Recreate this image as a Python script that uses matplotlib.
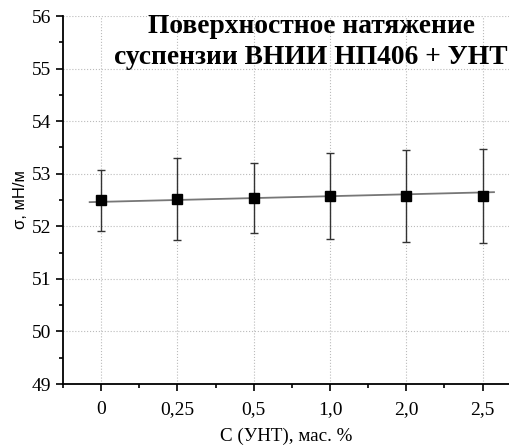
import matplotlib.pyplot as plt
import numpy as np
from matplotlib.ticker import MultipleLocator

# data
conc_labels = ['0', '0,25', '0,5', '1,0', '2,0', '2,5']
sigma = [52.50, 52.52, 52.54, 52.57, 52.58, 52.58]
sigma_err = [0.58, 0.78, 0.67, 0.82, 0.87, 0.90]
fit_x = [-0.15, 5.15]
fit_y = [52.46, 52.65]

plt.rcParams['font.family'] = ['Liberation Serif', 'DejaVu Serif']

fig = plt.figure(figsize=(5.1, 4.46), dpi=100)
ax = fig.add_axes([0.1235, 0.139, 0.8765, 0.825])

x = np.arange(len(conc_labels))
ax.plot(fit_x, fit_y, color='#777777', lw=1.3, zorder=2)
ax.errorbar(x, sigma, yerr=sigma_err, fmt='s', color='black', ms=6.5,
            ecolor='#333333', elinewidth=1, capsize=2.8, capthick=1, zorder=3)

ax.set_xlim(-0.5, 5.36)
ax.set_ylim(49, 56)
ax.set_xticks(x)
ax.set_xticklabels(conc_labels)
ax.xaxis.set_minor_locator(MultipleLocator(1, offset=0.5))
ax.yaxis.set_major_locator(MultipleLocator(1))
ax.yaxis.set_minor_locator(MultipleLocator(0.5))
ax.tick_params(which='major', direction='out', length=5, width=1.2, labelsize=14)
ax.tick_params(which='minor', direction='out', length=3, width=1.2)
ax.tick_params(axis='x', pad=7)

for s in ['top', 'right']:
    ax.spines[s].set_visible(False)
for s in ['left', 'bottom']:
    ax.spines[s].set_linewidth(1.3)

ax.grid(True, which='major', linestyle=':', color='#bbbbbb', lw=0.8)
ax.set_axisbelow(True)

ax.set_xlabel('C (УНТ), мас. %', fontsize=13.7, labelpad=7)
ax.set_ylabel('σ, мН/м', fontsize=12, family=['Liberation Sans', 'DejaVu Sans'], labelpad=3)

ax.text(0.555, 1.005, 'Поверхностное натяжение\nсуспензии ВНИИ НП406 + УНТ',
        transform=ax.transAxes, ha='center', va='top', fontsize=19.8,
        fontweight='bold', linespacing=1.32)

fig.savefig('out.png', dpi=100)
